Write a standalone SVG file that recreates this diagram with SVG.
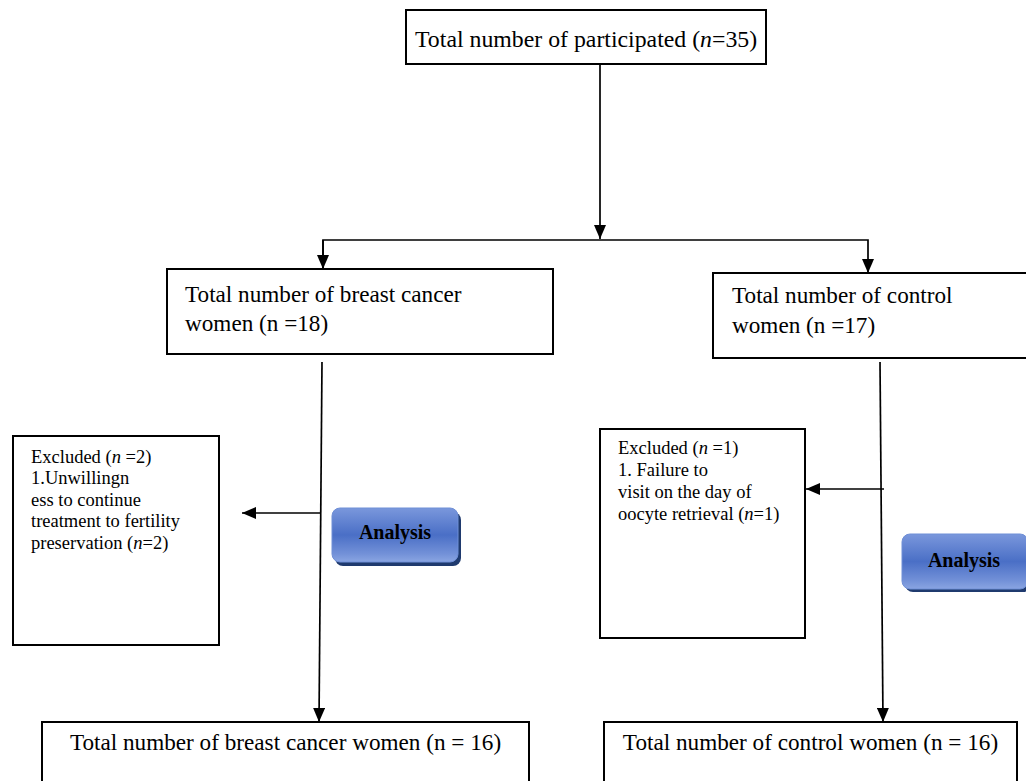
<svg xmlns="http://www.w3.org/2000/svg" width="1026" height="781" viewBox="0 0 1026 781">
<style>
.box{fill:#fff;stroke:#000;stroke-width:2}
.t{font-family:"Liberation Serif","Times New Roman",serif;fill:#000}
.big{font-size:23.2px}
.top{font-size:23.8px}
.sm{font-size:18.5px}
.it{font-style:italic}
.btn{font-family:"Liberation Serif","Times New Roman",serif;font-weight:bold;font-size:20px;fill:#000;text-anchor:middle}
.ln{stroke:#000;stroke-width:1.7;fill:none}
</style>
<defs>
<marker id="ah" markerUnits="userSpaceOnUse" markerWidth="14" markerHeight="12" refX="14" refY="6" orient="auto">
<path d="M0,0 L14,6 L0,12 Z" fill="#000"/>
</marker>
<linearGradient id="bg" x1="0" y1="0" x2="0" y2="1">
<stop offset="0" stop-color="#7a97dc"/>
<stop offset="0.5" stop-color="#4a6fc6"/>
<stop offset="0.85" stop-color="#7391d8"/>
<stop offset="1" stop-color="#8aa5e2"/>
</linearGradient>
</defs>
<rect width="1026" height="781" fill="#fff"/>
<g id="connectors">
<line class="ln" x1="600" y1="64" x2="600" y2="239" marker-end="url(#ah)"/>
<polyline class="ln" points="323,269 323,240 868,240 868,273" marker-end="url(#ah)"/>
<line class="ln" x1="323" y1="240" x2="323" y2="269" marker-end="url(#ah)"/>
<line class="ln" x1="322" y1="362" x2="319" y2="722" marker-end="url(#ah)"/>
<line class="ln" x1="321" y1="513" x2="242" y2="513" marker-end="url(#ah)"/>
<line class="ln" x1="880" y1="362" x2="883" y2="722" marker-end="url(#ah)"/>
<line class="ln" x1="884" y1="489" x2="806" y2="489" marker-end="url(#ah)"/>
</g>
<g id="n-total">
<rect class="box" x="406" y="10" width="360" height="54"/>
<text class="t top" x="415" y="47">Total number of participated (<tspan class="it">n</tspan>=35)</text>
</g>
<g id="n-cancer">
<rect class="box" x="167" y="269" width="386" height="85"/>
<text class="t big" x="185" y="302">Total number of breast cancer</text>
<text class="t big" x="185" y="331">women (n =18)</text>
</g>
<g id="n-control">
<rect class="box" x="713" y="273" width="330" height="85"/>
<text class="t big" x="732" y="303">Total number of control</text>
<text class="t big" x="732" y="333">women (n =17)</text>
</g>
<g id="n-excl1">
<rect class="box" x="13" y="436" width="206" height="209"/>
<text class="t sm" x="31" y="463">Excluded (<tspan class="it">n</tspan> =2)</text>
<text class="t sm" x="31" y="484">1.Unwillingn</text>
<text class="t sm" x="31" y="506">ess to continue</text>
<text class="t sm" x="31" y="527">treatment to fertility</text>
<text class="t sm" x="31" y="549">preservation (<tspan class="it">n</tspan>=2)</text>
</g>
<g id="n-excl2">
<rect class="box" x="600" y="429" width="205" height="209"/>
<text class="t sm" x="618" y="454">Excluded (<tspan class="it">n</tspan> =1)</text>
<text class="t sm" x="618" y="476">1. Failure to</text>
<text class="t sm" x="618" y="498">visit on the day of</text>
<text class="t sm" x="618" y="520">oocyte retrieval (<tspan class="it">n</tspan>=1)</text>
</g>
<g id="n-analysis1">
<rect x="335" y="512" width="126" height="54" rx="8" fill="#1f3a6e"/>
<rect x="332" y="508" width="126" height="54" rx="8" fill="url(#bg)" stroke="#6f8fd6" stroke-width="1"/>
<text class="btn" x="395" y="539">Analysis</text>
</g>
<g id="n-analysis2">
<rect x="905" y="538" width="126" height="54" rx="8" fill="#1f3a6e"/>
<rect x="902" y="534" width="126" height="55" rx="8" fill="url(#bg)" stroke="#6f8fd6" stroke-width="1"/>
<text class="btn" x="964" y="567">Analysis</text>
</g>
<g id="n-cancer16">
<rect class="box" x="42" y="722" width="487" height="80"/>
<text class="t big" x="285.5" y="750" text-anchor="middle">Total number of breast cancer women (n = 16)</text>
</g>
<g id="n-control16">
<rect class="box" x="604" y="722" width="413" height="80"/>
<text class="t big" x="810.5" y="750" text-anchor="middle">Total number of control women (n = 16)</text>
</g>
</svg>
